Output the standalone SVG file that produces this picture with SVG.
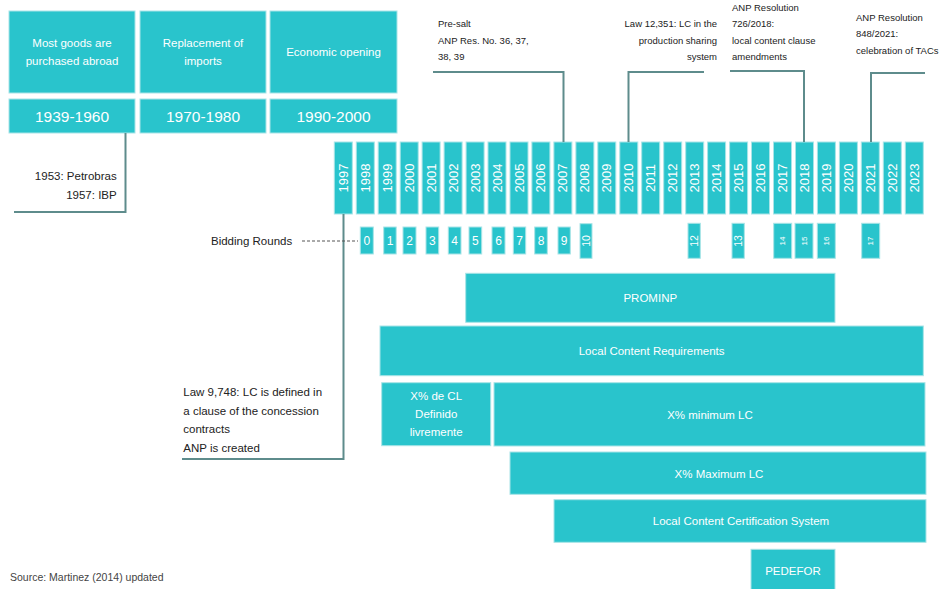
<svg xmlns="http://www.w3.org/2000/svg" width="939" height="589" viewBox="0 0 939 589">
<style>
.box{fill:#29c4cc;stroke:#a8e4e7;stroke-width:1}
.wt{fill:#ffffff;font-family:"Liberation Sans",Arial,sans-serif;font-size:11.5px;text-anchor:middle}
.big{font-size:15.5px}
.yr{fill:#ffffff;font-family:"Liberation Sans",Arial,sans-serif;font-size:13px;text-anchor:middle;dominant-baseline:central}
.rn{fill:#ffffff;font-family:"Liberation Sans",Arial,sans-serif;font-size:12px;text-anchor:middle;dominant-baseline:central}
.rs{font-size:10.5px}
.rx{font-size:8px}
.dk{fill:#222222;font-family:"Liberation Sans",Arial,sans-serif;font-size:11.5px}
.sm{fill:#222222;font-family:"Liberation Sans",Arial,sans-serif;font-size:9.5px}
.ln{fill:none;stroke:#5e8c8c;stroke-width:2}
</style>
<rect width="939" height="589" fill="#ffffff"/>

<g id="eras">
  <g id="era1">
    <rect class="box" x="9" y="11" width="126" height="82"/>
    <text class="wt" x="72" y="47">Most goods are</text>
    <text class="wt" x="72" y="65">purchased abroad</text>
    <rect class="box" x="9" y="99" width="126" height="34"/>
    <text class="wt big" x="72" y="122">1939-1960</text>
  </g>
  <g id="era2">
    <rect class="box" x="140" y="11" width="126" height="82"/>
    <text class="wt" x="203" y="47">Replacement of</text>
    <text class="wt" x="203" y="65">imports</text>
    <rect class="box" x="140" y="99" width="126" height="34"/>
    <text class="wt big" x="203" y="122">1970-1980</text>
  </g>
  <g id="era3">
    <rect class="box" x="270" y="11" width="127" height="82"/>
    <text class="wt" x="333.5" y="56">Economic opening</text>
    <rect class="box" x="270" y="99" width="127" height="34"/>
    <text class="wt big" x="333.5" y="122">1990-2000</text>
  </g>
</g>

<g id="years">
  <g id="y1997"><rect class="box" x="334.3" y="142" width="18" height="72"/><text class="yr" transform="translate(343.3,178) rotate(-90)">1997</text></g>
  <g id="y1998"><rect class="box" x="356.3" y="142" width="18" height="72"/><text class="yr" transform="translate(365.3,178) rotate(-90)">1998</text></g>
  <g id="y1999"><rect class="box" x="378.2" y="142" width="18" height="72"/><text class="yr" transform="translate(387.2,178) rotate(-90)">1999</text></g>
  <g id="y2000"><rect class="box" x="400.2" y="142" width="18" height="72"/><text class="yr" transform="translate(409.2,178) rotate(-90)">2000</text></g>
  <g id="y2001"><rect class="box" x="422.1" y="142" width="18" height="72"/><text class="yr" transform="translate(431.1,178) rotate(-90)">2001</text></g>
  <g id="y2002"><rect class="box" x="444.1" y="142" width="18" height="72"/><text class="yr" transform="translate(453.1,178) rotate(-90)">2002</text></g>
  <g id="y2003"><rect class="box" x="466.1" y="142" width="18" height="72"/><text class="yr" transform="translate(475.1,178) rotate(-90)">2003</text></g>
  <g id="y2004"><rect class="box" x="488.0" y="142" width="18" height="72"/><text class="yr" transform="translate(497.0,178) rotate(-90)">2004</text></g>
  <g id="y2005"><rect class="box" x="510.0" y="142" width="18" height="72"/><text class="yr" transform="translate(519.0,178) rotate(-90)">2005</text></g>
  <g id="y2006"><rect class="box" x="531.9" y="142" width="18" height="72"/><text class="yr" transform="translate(540.9,178) rotate(-90)">2006</text></g>
  <g id="y2007"><rect class="box" x="553.9" y="142" width="18" height="72"/><text class="yr" transform="translate(562.9,178) rotate(-90)">2007</text></g>
  <g id="y2008"><rect class="box" x="575.9" y="142" width="18" height="72"/><text class="yr" transform="translate(584.9,178) rotate(-90)">2008</text></g>
  <g id="y2009"><rect class="box" x="597.8" y="142" width="18" height="72"/><text class="yr" transform="translate(606.8,178) rotate(-90)">2009</text></g>
  <g id="y2010"><rect class="box" x="619.8" y="142" width="18" height="72"/><text class="yr" transform="translate(628.8,178) rotate(-90)">2010</text></g>
  <g id="y2011"><rect class="box" x="641.7" y="142" width="18" height="72"/><text class="yr" transform="translate(650.7,178) rotate(-90)">2011</text></g>
  <g id="y2012"><rect class="box" x="663.7" y="142" width="18" height="72"/><text class="yr" transform="translate(672.7,178) rotate(-90)">2012</text></g>
  <g id="y2013"><rect class="box" x="685.7" y="142" width="18" height="72"/><text class="yr" transform="translate(694.7,178) rotate(-90)">2013</text></g>
  <g id="y2014"><rect class="box" x="707.6" y="142" width="18" height="72"/><text class="yr" transform="translate(716.6,178) rotate(-90)">2014</text></g>
  <g id="y2015"><rect class="box" x="729.6" y="142" width="18" height="72"/><text class="yr" transform="translate(738.6,178) rotate(-90)">2015</text></g>
  <g id="y2016"><rect class="box" x="751.5" y="142" width="18" height="72"/><text class="yr" transform="translate(760.5,178) rotate(-90)">2016</text></g>
  <g id="y2017"><rect class="box" x="773.5" y="142" width="18" height="72"/><text class="yr" transform="translate(782.5,178) rotate(-90)">2017</text></g>
  <g id="y2018"><rect class="box" x="795.5" y="142" width="18" height="72"/><text class="yr" transform="translate(804.5,178) rotate(-90)">2018</text></g>
  <g id="y2019"><rect class="box" x="817.4" y="142" width="18" height="72"/><text class="yr" transform="translate(826.4,178) rotate(-90)">2019</text></g>
  <g id="y2020"><rect class="box" x="839.4" y="142" width="18" height="72"/><text class="yr" transform="translate(848.4,178) rotate(-90)">2020</text></g>
  <g id="y2021"><rect class="box" x="861.3" y="142" width="18" height="72"/><text class="yr" transform="translate(870.3,178) rotate(-90)">2021</text></g>
  <g id="y2022"><rect class="box" x="883.3" y="142" width="18" height="72"/><text class="yr" transform="translate(892.3,178) rotate(-90)">2022</text></g>
  <g id="y2023"><rect class="box" x="905.3" y="142" width="18" height="72"/><text class="yr" transform="translate(914.3,178) rotate(-90)">2023</text></g>
</g>

<g id="bidding-rounds">
  <text class="dk" x="211" y="245">Bidding Rounds</text>
  <g id="r0"><rect class="box" x="360.3" y="227" width="13" height="27"/><text class="rn" x="366.8" y="241">0</text></g>
  <g id="r1"><rect class="box" x="383.7" y="227" width="12.5" height="27"/><text class="rn" x="390" y="241">1</text></g>
  <g id="r2"><rect class="box" x="403" y="227" width="13" height="27"/><text class="rn" x="409.5" y="241">2</text></g>
  <g id="r3"><rect class="box" x="426" y="227" width="12.7" height="27"/><text class="rn" x="432.3" y="241">3</text></g>
  <g id="r4"><rect class="box" x="448.3" y="227" width="12.7" height="27"/><text class="rn" x="454.6" y="241">4</text></g>
  <g id="r5"><rect class="box" x="469" y="227" width="12.7" height="27"/><text class="rn" x="475.3" y="241">5</text></g>
  <g id="r6"><rect class="box" x="492" y="227" width="13" height="27"/><text class="rn" x="498.5" y="241">6</text></g>
  <g id="r7"><rect class="box" x="513.3" y="227" width="12.4" height="27"/><text class="rn" x="519.5" y="241">7</text></g>
  <g id="r8"><rect class="box" x="534.7" y="227" width="12.6" height="27"/><text class="rn" x="541" y="241">8</text></g>
  <g id="r9"><rect class="box" x="558" y="227" width="12.3" height="27"/><text class="rn" x="564.2" y="241">9</text></g>
  <g id="r10"><rect class="box" x="580" y="223.7" width="12" height="34.6"/><text class="rn rs" transform="translate(586,241) rotate(-90)">10</text></g>
  <g id="r12"><rect class="box" x="688" y="223.3" width="12.3" height="35"/><text class="rn rs" transform="translate(694.2,241) rotate(-90)">12</text></g>
  <g id="r13"><rect class="box" x="732" y="223.3" width="12.3" height="35"/><text class="rn rs" transform="translate(738.2,241) rotate(-90)">13</text></g>
  <g id="r14"><rect class="box" x="773.7" y="223.3" width="18" height="35"/><text class="rn rx" transform="translate(782.7,241) rotate(-90)">14</text></g>
  <g id="r15"><rect class="box" x="795" y="223.3" width="18" height="35"/><text class="rn rx" transform="translate(804,241) rotate(-90)">15</text></g>
  <g id="r16"><rect class="box" x="817.3" y="223.3" width="18" height="35"/><text class="rn rx" transform="translate(826.3,241) rotate(-90)">16</text></g>
  <g id="r17"><rect class="box" x="861.7" y="223.3" width="18" height="35"/><text class="rn rx" transform="translate(870.7,241) rotate(-90)">17</text></g>
</g>

<g id="bars">
  <g id="prominp"><rect class="box" x="465.7" y="273.3" width="369.3" height="49"/><text class="wt" x="650.3" y="302">PROMINP</text></g>
  <g id="lcr"><rect class="box" x="380" y="326" width="543.3" height="49.7"/><text class="wt" x="651.6" y="355">Local Content Requirements</text></g>
  <g id="xcl">
    <rect class="box" x="381.7" y="382.7" width="109" height="63"/>
    <text class="wt" x="436.2" y="400">X% de CL</text>
    <text class="wt" x="436.2" y="418">Definido</text>
    <text class="wt" x="436.2" y="436">livremente</text>
  </g>
  <g id="xmin"><rect class="box" x="494" y="382.7" width="431" height="63.3"/><text class="wt" x="710" y="418.5">X% minimum LC</text></g>
  <g id="xmax"><rect class="box" x="510" y="452" width="416" height="42.3"/><text class="wt" x="719" y="477.5">X% Maximum LC</text></g>
  <g id="lccs"><rect class="box" x="554" y="499.7" width="372" height="42.6"/><text class="wt" x="741" y="525">Local Content Certification System</text></g>
  <g id="pedefor"><rect class="box" x="751" y="549.3" width="84" height="45"/><text class="wt" x="793" y="575">PEDEFOR</text></g>
</g>

<g id="notes">
  <g id="note-petrobras">
    <text class="dk" x="116.7" y="180" text-anchor="end">1953: Petrobras</text>
    <text class="dk" x="116.7" y="198.5" text-anchor="end">1957: IBP</text>
  </g>
  <g id="note-law9748">
    <text class="dk" x="183.3" y="396">Law 9,748: LC is defined in</text>
    <text class="dk" x="183.3" y="414.5">a clause of the concession</text>
    <text class="dk" x="183.3" y="433">contracts</text>
    <text class="dk" x="183.3" y="451.5">ANP is created</text>
  </g>
  <g id="note-presalt">
    <text class="sm" x="438" y="27">Pre-salt</text>
    <text class="sm" x="438" y="43.5">ANP Res. No. 36, 37,</text>
    <text class="sm" x="438" y="60">38, 39</text>
  </g>
  <g id="note-law12351">
    <text class="sm" x="717" y="27" text-anchor="end">Law 12,351: LC in the</text>
    <text class="sm" x="717" y="43.5" text-anchor="end">production sharing</text>
    <text class="sm" x="717" y="60" text-anchor="end">system</text>
  </g>
  <g id="note-anp726">
    <text class="sm" x="732" y="11">ANP Resolution</text>
    <text class="sm" x="732" y="27">726/2018:</text>
    <text class="sm" x="732" y="43.5">local content clause</text>
    <text class="sm" x="732" y="60">amendments</text>
  </g>
  <g id="note-anp848">
    <text class="sm" x="856" y="21">ANP Resolution</text>
    <text class="sm" x="856" y="37">848/2021:</text>
    <text class="sm" x="856" y="53.5">celebration of TACs</text>
  </g>
  <text id="source" x="10" y="581" style="fill:#444444;font-family:'Liberation Sans',Arial,sans-serif;font-size:10.5px">Source: Martinez (2014) updated</text>
</g>

<g id="connectors">
  <path class="ln" d="M125.5,133 V212 H14"/>
  <path class="ln" d="M343.5,214 V459 H182"/>
  <path class="ln" d="M433,72 H563.5 V142"/>
  <path class="ln" d="M628.5,142 V72 H704"/>
  <path class="ln" d="M730,71 H804 V142"/>
  <path class="ln" d="M871,142 V73 H925"/>
  <path d="M302,241 H358" fill="none" stroke="#555555" stroke-width="1" stroke-dasharray="3,2"/>
</g>
</svg>
